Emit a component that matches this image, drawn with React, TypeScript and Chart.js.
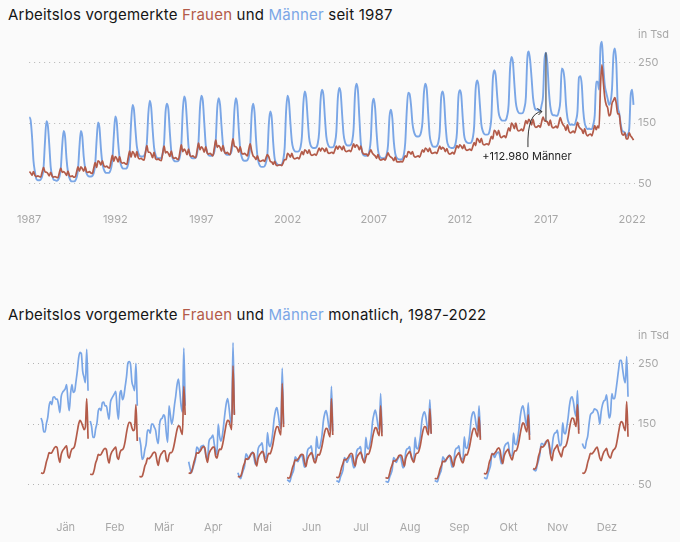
import React, { useEffect, useRef } from "react";
import { Chart, registerables } from "chart.js";

Chart.register(...registerables);

// ---------- data (in thousand persons, monthly, 1987 – Feb 2022) ----------
const FIRST_YEAR = 1987;
const MONTHS = ["Jän", "Feb", "Mär", "Apr", "Mai", "Jun", "Jul", "Aug", "Sep", "Okt", "Nov", "Dez"];
const YEAR_TICKS = [1987, 1992, 1997, 2002, 2007, 2012, 2017, 2022];
const Y_TICKS = [50, 150, 250];

// rows = years 1987..2022, columns = Jan..Dec
const MEN: number[][] = [
  [160, 155, 128, 88, 70, 58, 56, 56, 57, 62, 76, 118], // 1987
  [153, 146, 115, 78, 64, 57, 56, 55, 56, 61, 74, 112], // 1988
  [137, 128, 92, 70, 60, 55, 54, 54, 55, 60, 73, 110], // 1989
  [137, 128, 95, 76, 67, 63, 62, 62, 63, 68, 82, 122], // 1990
  [151, 142, 108, 84, 74, 69, 68, 68, 69, 75, 90, 130], // 1991
  [161, 152, 118, 92, 81, 76, 75, 75, 76, 83, 100, 150], // 1992
  [180, 172, 140, 112, 101, 96, 95, 95, 96, 102, 118, 165], // 1993
  [187, 176, 140, 110, 98, 93, 92, 92, 93, 100, 118, 168], // 1994
  [182, 172, 135, 104, 92, 88, 87, 87, 88, 95, 114, 170], // 1995
  [194, 185, 150, 112, 98, 93, 92, 92, 93, 100, 120, 175], // 1996
  [195, 186, 150, 114, 102, 97, 96, 96, 97, 103, 122, 174], // 1997
  [191, 180, 145, 115, 104, 99, 98, 98, 99, 104, 122, 172], // 1998
  [191, 180, 140, 108, 95, 89, 88, 88, 89, 95, 112, 165], // 1999
  [182, 168, 125, 96, 84, 79, 78, 78, 79, 85, 100, 150], // 2000
  [169, 158, 118, 92, 85, 82, 81, 81, 82, 90, 110, 170], // 2001
  [195, 185, 150, 120, 108, 104, 103, 103, 104, 110, 128, 182], // 2002
  [202, 192, 158, 126, 114, 110, 109, 109, 110, 116, 135, 188], // 2003
  [205, 196, 160, 128, 116, 111, 110, 110, 111, 118, 136, 190], // 2004
  [208, 200, 165, 132, 119, 114, 113, 113, 114, 120, 140, 198], // 2005
  [215, 204, 160, 118, 102, 97, 96, 96, 97, 104, 124, 178], // 2006
  [190, 175, 135, 106, 96, 93, 92, 92, 93, 98, 114, 160], // 2007
  [172, 158, 120, 100, 93, 91, 90, 90, 91, 98, 118, 168], // 2008
  [200, 198, 180, 150, 136, 130, 128, 128, 129, 135, 152, 200], // 2009
  [215, 205, 165, 130, 118, 112, 111, 111, 112, 118, 136, 192], // 2010
  [202, 190, 150, 122, 113, 110, 109, 109, 110, 116, 134, 192], // 2011
  [204, 196, 160, 130, 121, 118, 117, 117, 118, 125, 145, 205], // 2012
  [220, 212, 180, 148, 137, 132, 131, 131, 132, 140, 160, 222], // 2013
  [237, 228, 196, 168, 159, 155, 154, 154, 155, 162, 180, 240], // 2014
  [259, 250, 215, 184, 172, 167, 166, 166, 167, 175, 192, 255], // 2015
  [268, 253, 224, 192, 177, 172, 173, 170, 170, 180, 195, 255], // 2016
  [266, 248, 205, 178, 166, 163, 163, 162, 162, 170, 186, 240], // 2017
  [237, 220, 180, 158, 150, 147, 148, 147, 147, 155, 170, 225], // 2018
  [227, 212, 170, 150, 143, 140, 141, 140, 140, 148, 163, 218], // 2019
  [218, 205, 275, 284, 242, 212, 200, 190, 180, 185, 205, 261], // 2020
  [273, 250, 180, 167, 150, 138, 136, 134, 128, 132, 140, 195], // 2021
  [205, 180], // 2022
];

const WOMEN: number[][] = [
  [70, 68, 64, 70, 64, 62, 63, 62, 61, 69, 77, 70], // 1987
  [69, 67, 63, 69, 63, 61, 62, 61, 60, 68, 76, 69], // 1988
  [70, 68, 64, 71, 64, 62, 63, 61, 61, 69, 78, 71], // 1989
  [78, 75, 71, 78, 70, 69, 70, 68, 67, 76, 85, 77], // 1990
  [88, 86, 81, 88, 80, 78, 79, 77, 76, 87, 97, 87], // 1991
  [95, 92, 86, 95, 86, 84, 85, 83, 82, 93, 104, 94], // 1992
  [103, 100, 94, 103, 93, 91, 92, 90, 89, 101, 113, 102], // 1993
  [102, 99, 93, 102, 92, 90, 91, 89, 88, 100, 112, 101], // 1994
  [103, 100, 95, 104, 94, 92, 93, 91, 90, 102, 114, 103], // 1995
  [107, 104, 98, 107, 97, 95, 96, 94, 93, 105, 117, 106], // 1996
  [111, 108, 102, 111, 101, 99, 100, 98, 96, 109, 122, 110], // 1997
  [113, 110, 104, 113, 103, 100, 102, 99, 98, 111, 124, 112], // 1998
  [111, 108, 102, 111, 101, 99, 100, 98, 96, 107, 116, 104], // 1999
  [96, 94, 90, 96, 89, 87, 88, 89, 87, 93, 98, 94], // 2000
  [87, 86, 82, 87, 81, 80, 81, 81, 80, 85, 90, 90], // 2001
  [100, 98, 94, 100, 93, 91, 92, 93, 91, 97, 103, 98], // 2002
  [106, 104, 100, 106, 99, 97, 98, 99, 97, 103, 109, 104], // 2003
  [109, 107, 103, 109, 102, 100, 101, 102, 100, 106, 112, 107], // 2004
  [112, 110, 106, 112, 105, 103, 104, 105, 103, 109, 116, 110], // 2005
  [114, 112, 106, 112, 103, 99, 99, 99, 96, 101, 106, 101], // 2006
  [98, 96, 92, 98, 91, 89, 90, 91, 89, 95, 101, 96], // 2007
  [94, 92, 88, 94, 87, 86, 86, 87, 86, 91, 96, 94], // 2008
  [103, 102, 99, 103, 96, 94, 95, 96, 94, 100, 106, 102], // 2009
  [109, 107, 103, 109, 102, 100, 101, 102, 100, 106, 112, 107], // 2010
  [110, 108, 103, 108, 101, 99, 100, 102, 99, 106, 113, 109], // 2011
  [114, 112, 108, 114, 107, 105, 106, 107, 105, 111, 118, 113], // 2012
  [125, 122, 118, 125, 116, 114, 115, 116, 114, 121, 128, 124], // 2013
  [138, 136, 130, 138, 129, 126, 128, 129, 126, 134, 142, 137], // 2014
  [150, 147, 141, 150, 140, 137, 138, 140, 137, 145, 154, 149], // 2015
  [156, 153, 147, 156, 146, 143, 144, 146, 143, 152, 160, 154], // 2016
  [153, 152, 146, 155, 145, 142, 143, 145, 142, 150, 159, 152], // 2017
  [147, 144, 138, 147, 137, 134, 135, 137, 134, 142, 151, 144], // 2018
  [141, 139, 133, 141, 132, 129, 131, 132, 129, 137, 146, 139], // 2019
  [145, 142, 212, 246, 217, 192, 180, 175, 162, 165, 182, 187], // 2020
  [192, 182, 165, 165, 145, 132, 130, 134, 124, 124, 134, 129], // 2021
  [126, 122], // 2022
];

const ANNOT_YEAR = 2017;
const ANNOT_MONTH = 0;
const ANNOT_TEXT = "+112.980 Männer";

// ---------- styling ----------
const BLUE = "#7aa6e6";
const RED = "#b35b49";
const GRID = "#b4b4b4";
const TICK = "#a8a8a8";
const FONT = "Inter, 'Noto Sans', sans-serif";
const CYCLE_STEP = 0.0273; // x-units per year inside a month panel

type Pt = { x: number; y: number | null };

function timeSeries(rows: number[][]): Pt[] {
  const pts: Pt[] = [];
  rows.forEach((row, i) => row.forEach((v, m) => pts.push({ x: FIRST_YEAR + i + m / 12, y: v })));
  return pts;
}

function cycleSeries(rows: number[][]): Pt[] {
  const pts: Pt[] = [];
  for (let m = 0; m < 12; m++) {
    rows.forEach((row, i) => {
      if (row[m] !== undefined && row[m] !== null) pts.push({ x: m + i * CYCLE_STEP, y: row[m] });
    });
    pts.push({ x: m + 0.99, y: null });
  }
  return pts;
}

const unitPlugin = {
  id: "unitLabel",
  afterDraw(chart: any) {
    const { ctx, chartArea } = chart;
    ctx.save();
    ctx.font = `11px ${FONT}`;
    ctx.fillStyle = TICK;
    ctx.textAlign = "left";
    ctx.textBaseline = "middle";
    ctx.fillText("in Tsd", chartArea.right + 3, chartArea.top - 3.5);
    ctx.restore();
  },
};

const annotationPlugin = {
  id: "diffAnnotation",
  afterDatasetsDraw(chart: any) {
    const { ctx } = chart;
    const xs = chart.scales.x;
    const ys = chart.scales.y;
    const i = ANNOT_YEAR - FIRST_YEAR;
    const px = xs.getPixelForValue(ANNOT_YEAR + ANNOT_MONTH / 12);
    const yTop = ys.getPixelForValue(MEN[i][ANNOT_MONTH]);
    const yBot = ys.getPixelForValue(WOMEN[i][ANNOT_MONTH]);
    ctx.save();
    ctx.strokeStyle = "#4d4d4d";
    ctx.lineWidth = 1.2;
    ctx.beginPath();
    ctx.moveTo(px, yTop);
    ctx.lineTo(px, yBot);
    ctx.stroke();

    const tx = px - 19;
    const ty = ys.getPixelForValue(94);
    ctx.font = `11px ${FONT}`;
    ctx.fillStyle = "#222";
    ctx.textAlign = "center";
    ctx.textBaseline = "middle";
    ctx.fillText(ANNOT_TEXT, tx, ty);

    const sx = px - 18;
    const sy = ty - 10;
    const ex = px - 4;
    const ey = ys.getPixelForValue(169);
    ctx.lineWidth = 1;
    ctx.strokeStyle = "#333";
    ctx.beginPath();
    ctx.moveTo(sx, sy);
    ctx.quadraticCurveTo(sx - 1, ey + 1, ex, ey);
    ctx.stroke();
    ctx.beginPath();
    ctx.moveTo(ex - 4.5, ey - 3);
    ctx.lineTo(ex, ey);
    ctx.lineTo(ex - 3.5, ey + 3.5);
    ctx.stroke();
    ctx.restore();
  },
};

function yScale() {
  return {
    type: "linear",
    position: "right",
    min: 30,
    max: 290,
    afterBuildTicks: (s: any) => {
      s.ticks = Y_TICKS.map((v) => ({ value: v }));
    },
    afterFit: (s: any) => {
      s.width = 45;
    },
    grid: { color: GRID, lineWidth: 1, drawTicks: false },
    border: { display: false, dash: [1, 4] },
    ticks: { color: TICK, padding: 3, font: { size: 11, family: FONT } },
  };
}

function baseOptions(xScale: any, padTop: number): any {
  return {
    responsive: false,
    animation: false,
    events: [],
    layout: { padding: { left: 28, right: 0, top: padTop, bottom: 0 } },
    plugins: { legend: { display: false }, tooltip: { enabled: false } },
    elements: {
      point: { radius: 0 },
      line: { borderWidth: 1.7, cubicInterpolationMode: "monotone", borderJoinStyle: "round" },
    },
    scales: { x: xScale, y: yScale() },
  };
}

function TopChart() {
  const ref = useRef<HTMLCanvasElement>(null);
  useEffect(() => {
    if (!ref.current) return;
    const chart = new Chart(ref.current, {
      type: "line",
      data: {
        datasets: [
          { data: timeSeries(WOMEN) as any, borderColor: RED, borderWidth: 1.7 },
          { data: timeSeries(MEN) as any, borderColor: BLUE, borderWidth: 1.9 },
        ],
      },
      options: baseOptions(
        {
          type: "linear",
          min: 1987,
          max: 2022.17,
          afterBuildTicks: (s: any) => {
            s.ticks = YEAR_TICKS.map((v) => ({ value: v }));
          },
          afterFit: (s: any) => {
            s.height = 39;
          },
          grid: { display: false, drawTicks: false },
          border: { display: false },
          ticks: {
            color: TICK,
            padding: 17,
            autoSkip: false,
            maxRotation: 0,
            font: { size: 11, family: FONT },
            callback: (v: any) => String(v),
          },
        },
        13
      ),
      plugins: [unitPlugin, annotationPlugin],
    } as any);
    return () => chart.destroy();
  }, []);
  return <canvas ref={ref} width={680} height={210} style={{ width: 680, height: 210, display: "block" }} />;
}

function CycleChart() {
  const ref = useRef<HTMLCanvasElement>(null);
  useEffect(() => {
    if (!ref.current) return;
    const chart = new Chart(ref.current, {
      type: "line",
      data: {
        datasets: [
          { data: cycleSeries(WOMEN) as any, borderColor: RED, borderWidth: 1.7 },
          { data: cycleSeries(MEN) as any, borderColor: BLUE, borderWidth: 1.7 },
        ],
      },
      options: baseOptions(
        {
          type: "linear",
          min: -0.265,
          max: 12.07,
          afterBuildTicks: (s: any) => {
            s.ticks = MONTHS.map((_, m) => ({ value: m + 0.5 }));
          },
          afterFit: (s: any) => {
            s.height = 45;
          },
          grid: { display: false, drawTicks: false },
          border: { display: false },
          ticks: {
            color: TICK,
            padding: 24,
            autoSkip: false,
            maxRotation: 0,
            font: { size: 11, family: FONT },
            callback: (v: any) => MONTHS[Math.floor(Number(v))] ?? "",
          },
        },
        14
      ),
      plugins: [unitPlugin],
    } as any);
    return () => chart.destroy();
  }, []);
  return <canvas ref={ref} width={680} height={217} style={{ width: 680, height: 217, display: "block" }} />;
}

function Title({ top, tail }: { top: number; tail: string }) {
  return (
    <div
      style={{
        position: "absolute",
        left: 8,
        top,
        fontFamily: FONT,
        fontSize: 15,
        letterSpacing: "0.2px",
        lineHeight: "20px",
        color: "#151515",
        whiteSpace: "nowrap",
      }}
    >
      Arbeitslos vorgemerkte <span style={{ color: RED }}>Frauen</span> und{" "}
      <span style={{ color: BLUE }}>Männer</span> {tail}
    </div>
  );
}

export default function App() {
  return (
    <div
      style={{
        position: "absolute",
        left: 0,
        top: 0,
        width: 680,
        height: 542,
        background: "#fafafa",
        overflow: "hidden",
      }}
    >
      <Title top={5} tail="seit 1987" />
      <div style={{ position: "absolute", left: 0, top: 25 }}>
        <TopChart />
      </div>
      <Title top={305} tail="monatlich, 1987-2022" />
      <div style={{ position: "absolute", left: 0, top: 325 }}>
        <CycleChart />
      </div>
    </div>
  );
}
